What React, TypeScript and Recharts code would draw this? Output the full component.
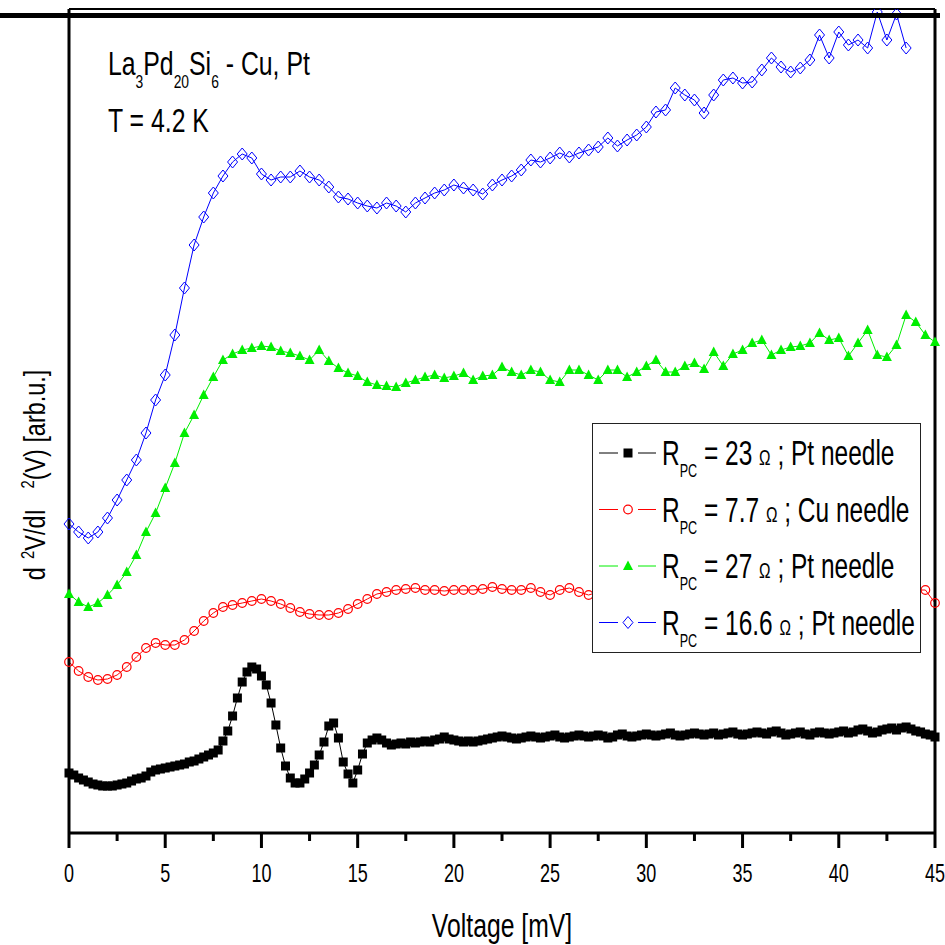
import React from "react";
import { Legend, Line, LineChart, XAxis, YAxis } from "recharts";

// d2V/dI2 spectra (arb. units above the bottom axis)
const BLACK_STEP = 0.25;
const black23 = [
  60, 58, 55, 53, 51, 49, 48, 47, 47, 47, 48, 49, 50, 52, 54, 55, 57, 61, 63, 64,
  65, 66, 67, 68, 69, 71, 72, 74, 76, 78, 80, 83, 92, 102, 117, 135, 151, 161, 166, 164,
  157, 148, 130, 108, 85, 67, 55, 50, 50, 54, 60, 68, 78, 91, 107, 110, 95, 71, 59, 50,
  63, 79, 90, 93, 95, 93, 90, 88, 89, 90, 89, 91, 90, 91, 92, 91, 93, 94, 96, 94,
  93, 92, 91, 92, 91, 92, 93, 94, 95, 96, 97, 96, 95, 94, 95, 96, 97, 96, 95, 96,
  97, 98, 96, 95, 96, 97, 98, 97, 96, 97, 98, 97, 95, 96, 98, 99, 97, 96, 97, 98,
  99, 98, 97, 98, 99, 100, 98, 97, 98, 99, 100, 99, 98, 99, 100, 98, 99, 100, 101, 99,
  98, 99, 100, 101, 100, 99, 101, 102, 100, 98, 99, 100, 101, 99, 98, 100, 101, 100, 99, 100,
  101, 102, 100, 101, 103, 104, 102, 100, 101, 103, 104, 105, 103, 105, 106, 104, 102, 101, 99, 98,
  96,
];

const STEP = 0.5;
const red77 = [
  171, 162, 156, 153, 154, 158, 166, 176, 185, 190, 188, 188, 193, 202, 212, 220, 226, 228, 230, 232,
  234, 232, 229, 225, 221, 219, 218, 218, 220, 224, 229, 234, 239, 241, 243, 244, 245, 243, 243, 242,
  243, 243, 243, 244, 246, 244, 243, 243, 245, 241, 238, 243, 245, 241, 238, 241, 243, 242, 244, 243,
  241, 243, 244, 242, 243, 245, 243, 242, 244, 243, 241, 243, 244, 242, 243, 245, 243, 242, 244, 243,
  242, 244, 243, 242, 244, 243, 242, 244, 243, 243, 230,
];

const green27 = [
  239, 231, 226, 230, 238, 248, 261, 278, 301, 320, 345, 370, 400, 418, 438, 456, 473, 479, 483, 485,
  487, 486, 482, 480, 477, 473, 483, 472, 465, 460, 457, 451, 448, 447, 446, 450, 453, 456, 458, 455,
  457, 460, 453, 457, 458, 466, 461, 458, 463, 461, 453, 451, 463, 463, 458, 453, 463, 463, 456, 461,
  467, 473, 461, 461, 467, 470, 464, 481, 467, 479, 483, 490, 493, 478, 483, 486, 487, 490, 500, 493,
  495, 477, 490, 503, 478, 476, 488, 518, 511, 498, 491,
];

const blue166 = [
  309, 301, 295, 301, 315, 333, 353, 373, 400, 433, 458, 498, 545, 588, 616, 640, 657, 671, 679, 675,
  659, 653, 656, 656, 662, 656, 653, 646, 636, 634, 630, 627, 625, 630, 627, 621, 630, 635, 640, 643,
  648, 645, 643, 639, 648, 653, 657, 663, 673, 671, 675, 680, 676, 680, 683, 686, 695, 687, 693, 698,
  706, 721, 723, 745, 738, 733, 720, 738, 753, 755, 750, 751, 763, 775, 766, 761, 765, 773, 798, 775,
  801, 788, 793, 785, 821, 793, 819, 785,
];

const seriesR = ["23", "7.7", "27", "16.6"];
const seriesNeedle = ["Pt", "Cu", "Pt", "Pt"];
const seriesColor = ["#000000", "#ff0000", "#00ee00", "#0000ff"];
const xTicks = [0, 2.5, 5, 7.5, 10, 12.5, 15, 17.5, 20, 22.5, 25, 27.5, 30, 32.5, 35, 37.5, 40, 42.5, 45];

const rows = (vals: number[], step: number) => vals.map((s, i) => ({ v: i * step, s }));

const NARROW = "'Liberation Sans Narrow', 'Arial Narrow', 'Liberation Sans', Arial, sans-serif";

const Squeezed = ({ x, y, sx, children, ...rest }: any) => (
  <g transform={`translate(${x} ${y}) scale(${sx} 1)`}>
    <text x={0} y={0} fontFamily={NARROW} fill="#000" xmlSpace="preserve" {...rest}>
      {children}
    </text>
  </g>
);

function Marker({ kind, cx, cy, color }: { kind: number; cx: number; cy: number; color: string }) {
  if (kind === 0) return <rect x={cx - 4.5} y={cy - 4.5} width={9} height={9} fill={color} />;
  if (kind === 1) return <circle cx={cx} cy={cy} r={4.3} fill="none" stroke={color} strokeWidth={1.2} />;
  if (kind === 2)
    return <polygon points={`${cx},${cy - 5.5} ${cx + 5},${cy + 4} ${cx - 5},${cy + 4}`} fill={color} />;
  return (
    <polygon
      points={`${cx},${cy - 6} ${cx + 5},${cy} ${cx},${cy + 6} ${cx - 5},${cy}`}
      fill="none"
      stroke={color}
      strokeWidth={1}
    />
  );
}

const dotFor = (kind: number) => (p: any) =>
  p.cx == null || p.cy == null ? <g key={p.key} /> : (
    <g key={p.key}>
      <Marker kind={kind} cx={p.cx} cy={p.cy} color={seriesColor[kind]} />
    </g>
  );

const VoltTick = ({ x, y, payload }: any) => {
  const major = payload.value % 5 === 0;
  return (
    <g>
      <line x1={x} x2={x} y1={y} y2={y + (major ? 15 : 8)} stroke="#000" strokeWidth={3} />
      {major && (
        <Squeezed x={x} y={y + 49} sx={0.72} fontSize={25} textAnchor="middle">
          {payload.value}
        </Squeezed>
      )}
    </g>
  );
};

const LegendBox = () => (
  <div style={{ width: 329, height: 230, boxSizing: "border-box", border: "1.5px solid #222", background: "#fff" }}>
    <svg width={326} height={227}>
      {seriesR.map((r, i) => {
        const cy = 29 + i * 56.5;
        return (
          <g key={r}>
            <line x1={6} x2={25} y1={cy} y2={cy} stroke={seriesColor[i]} strokeWidth={1} />
            <line x1={45} x2={63} y1={cy} y2={cy} stroke={seriesColor[i]} strokeWidth={1} />
            <Marker kind={i} cx={35} cy={cy} color={seriesColor[i]} />
            <Squeezed x={69} y={cy + 12} sx={0.7} fontSize={35}>
              <tspan>R</tspan>
              <tspan fontSize={18} dy={12}>PC</tspan>
              <tspan dy={-12}>{` = ${r} `}</tspan>
              <tspan fontSize={22}>Ω</tspan>
              <tspan>{` ; ${seriesNeedle[i]} needle`}</tspan>
            </Squeezed>
          </g>
        );
      })}
    </svg>
  </div>
);

export default function App() {
  return (
    <div style={{ position: "absolute", left: 0, top: 0, width: 945, height: 945, background: "#fff" }}>
      <LineChart width={945} height={945} margin={{ top: 8, right: 9, bottom: 32, left: 68 }}>
        <XAxis
          dataKey="v"
          type="number"
          domain={[0, 45]}
          ticks={xTicks}
          interval={0}
          height={80}
          tickSize={0}
          tickMargin={0}
          tickLine={false}
          tick={<VoltTick />}
          axisLine={{ stroke: "#000", strokeWidth: 3 }}
          label={{
            content: () => (
              <Squeezed x={502} y={937} sx={0.75} fontSize={33} textAnchor="middle">
                Voltage [mV]
              </Squeezed>
            ),
          }}
        />
        <XAxis
          xAxisId="top"
          orientation="top"
          dataKey="v"
          type="number"
          domain={[0, 45]}
          ticks={xTicks}
          interval={0}
          height={1}
          tick={false}
          tickSize={8}
          tickLine={{ stroke: "#666", strokeWidth: 1 }}
          axisLine={{ stroke: "#000", strokeWidth: 2 }}
        />
        <YAxis
          type="number"
          domain={[0, 824]}
          allowDataOverflow
          width={1}
          tick={false}
          tickLine={false}
          axisLine={{ stroke: "#000", strokeWidth: 3 }}
          label={{
            content: () => (
              <g transform="translate(45 475) rotate(-90)">
                <Squeezed x={0} y={0} sx={0.78} fontSize={30} textAnchor="middle">
                  <tspan>d</tspan>
                  <tspan fontSize={19} dy={-11}>{"  2"}</tspan>
                  <tspan dy={11}>V/dI</tspan>
                  <tspan fontSize={19} dy={-11}>{"     2"}</tspan>
                  <tspan dy={11}>(V) [arb.u.]</tspan>
                </Squeezed>
              </g>
            ),
          }}
        />
        <YAxis
          yAxisId="right"
          orientation="right"
          type="number"
          domain={[0, 824]}
          width={1}
          tick={false}
          tickLine={false}
          axisLine={{ stroke: "#000", strokeWidth: 3 }}
        />
        <Line data={rows(black23, BLACK_STEP)} dataKey="s" stroke={seriesColor[0]} strokeWidth={1} dot={dotFor(0)} activeDot={false} isAnimationActive={false} />
        <Line data={rows(red77, STEP)} dataKey="s" stroke={seriesColor[1]} strokeWidth={1} dot={dotFor(1)} activeDot={false} isAnimationActive={false} />
        <Line data={rows(green27, STEP)} dataKey="s" stroke={seriesColor[2]} strokeWidth={1} dot={dotFor(2)} activeDot={false} isAnimationActive={false} />
        <Line data={rows(blue166, STEP)} dataKey="s" stroke={seriesColor[3]} strokeWidth={1} dot={dotFor(3)} activeDot={false} isAnimationActive={false} />
        <Legend
          layout="vertical"
          align="center"
          verticalAlign="middle"
          content={() => <LegendBox />}
          wrapperStyle={{ left: 592, top: 423, width: 329, height: 230 }}
        />
      </LineChart>
      <svg width={945} height={945} style={{ position: "absolute", left: 0, top: 0, pointerEvents: "none" }}>
        <rect x={0} y={13} width={940} height={5} fill="#000" />
        <Squeezed x={108} y={75} sx={0.73} fontSize={34}>
          <tspan>La</tspan>
          <tspan fontSize={19} dy={13}>3</tspan>
          <tspan dy={-13}>Pd</tspan>
          <tspan fontSize={19} dy={13}>20</tspan>
          <tspan dy={-13}>Si</tspan>
          <tspan fontSize={19} dy={13}>6</tspan>
          <tspan dy={-13}> - Cu, Pt</tspan>
        </Squeezed>
        <Squeezed x={108} y={132} sx={0.73} fontSize={34}>
          T = 4.2 K
        </Squeezed>
      </svg>
    </div>
  );
}
